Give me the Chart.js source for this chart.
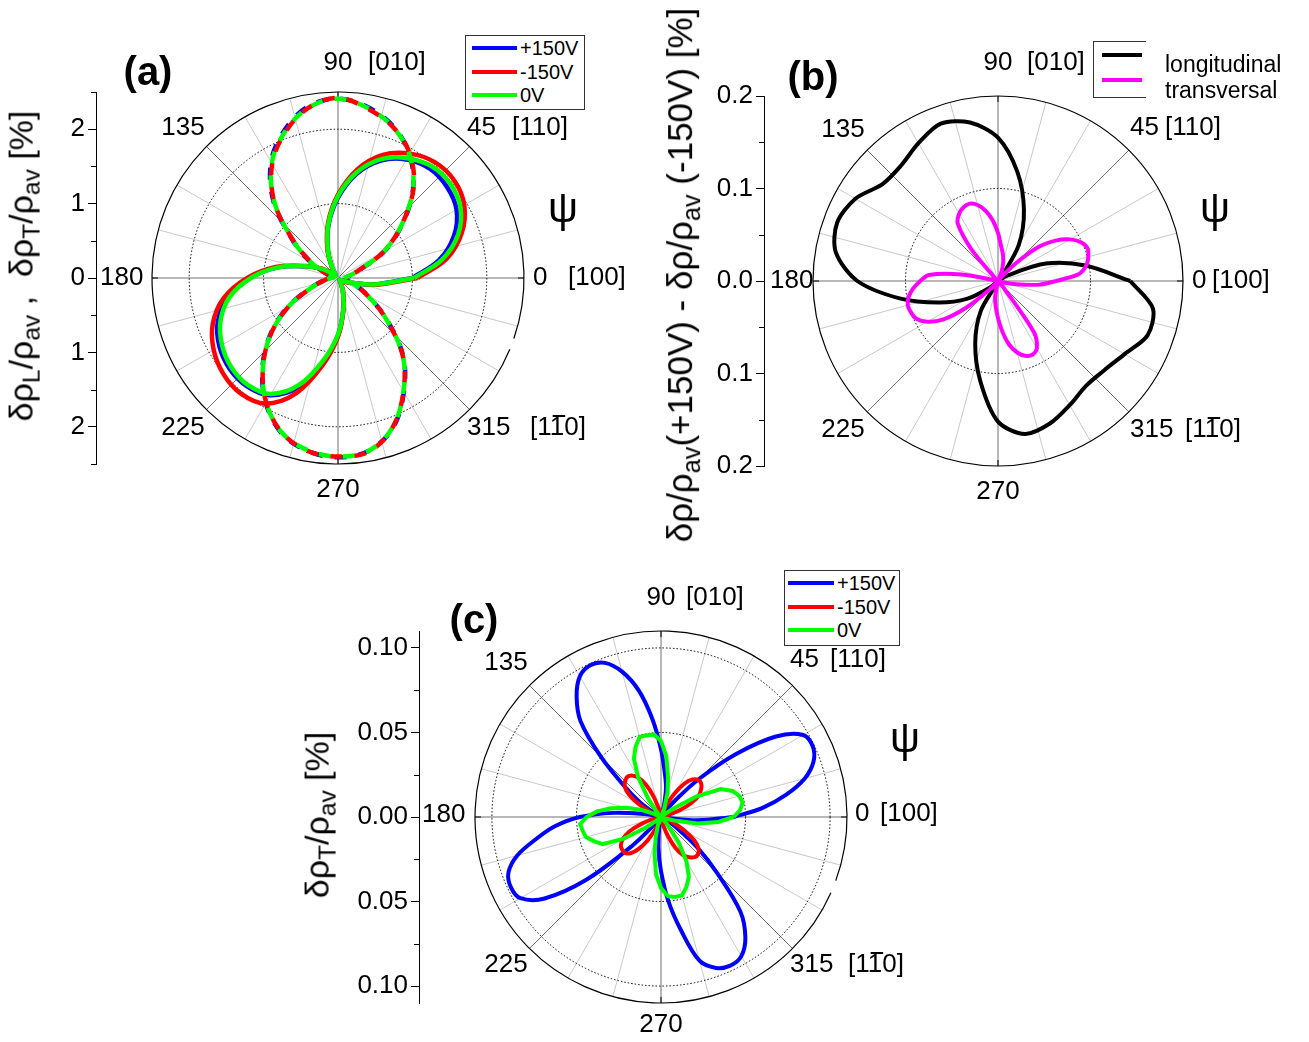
<!DOCTYPE html>
<html>
<head>
<meta charset="utf-8">
<script src="https://cdn.jsdelivr.net/npm/chart.js@4.4.1/dist/chart.umd.min.js"></script>
<style>
  body { margin: 0; background: #fff; }
  #page { position: relative; width: 1309px; height: 1042px; overflow: hidden;
          font-family: 'Liberation Sans', Arial, Helvetica, sans-serif; color: #000; }
  canvas { position: absolute; }
  .txt { position: absolute; white-space: nowrap; line-height: 1; transform: translateY(-50%); }
  .ctr { transform: translate(-50%, -50%); }
  .bold { font-weight: bold; }
  .ytitle { position: absolute; white-space: nowrap; line-height: 1;
            transform: translate(-50%, -50%) rotate(-90deg); }
  .ytitle sub { font-size: 0.72em; vertical-align: -0.3em; }
  .box { position: absolute; border: 1px solid #333; background: #fff; }
  .swatch { position: absolute; height: 4px; }
</style>
</head>
<body>
<div id="page">
  <canvas id="chartA" width="640" height="520" style="left:0;top:0"></canvas>
  <canvas id="chartB" width="669" height="560" style="left:640px;top:0"></canvas>
  <canvas id="chartC" width="680" height="482" style="left:280px;top:560px"></canvas>

  <div class="txt ctr bold" style="left:148px;top:71px;font-size:40px">(a)</div>
  <div class="txt ctr bold" style="left:813px;top:76px;font-size:40px">(b)</div>
  <div class="txt ctr bold" style="left:474px;top:619px;font-size:40px">(c)</div>

  <div class="txt ctr" style="left:563px;top:208px;font-size:42px">ψ</div>
  <div class="txt ctr" style="left:1215px;top:208px;font-size:42px">ψ</div>
  <div class="txt ctr" style="left:905px;top:738px;font-size:42px">ψ</div>

  <div class="ytitle" style="left:24px;top:266px;font-size:34px">δρ<sub>L</sub>/ρ<sub>av</sub> ,&nbsp; δρ<sub>T</sub>/ρ<sub>av</sub> [%]</div>
  <div class="ytitle" style="left:683px;top:275px;font-size:35px">δρ/ρ<sub>av</sub>(+150V) - δρ/ρ<sub>av</sub> (-150V) [%]</div>
  <div class="ytitle" style="left:320px;top:815px;font-size:34px">δρ<sub>T</sub>/ρ<sub>av</sub> [%]</div>
</div>

<script>
// angle grids (degrees)
const angles10 = [0, 10, 20, 30, 40, 50, 60, 70, 80, 90, 100, 110, 120, 130, 140, 150, 160, 170,
  180, 190, 200, 210, 220, 230, 240, 250, 260, 270, 280, 290, 300, 310, 320, 330, 340, 350];
const angles5 = [0, 5, 10, 15, 20, 25, 30, 35, 40, 45, 50, 55, 60, 65, 70, 75, 80, 85, 90, 95,
  100, 105, 110, 115, 120, 125, 130, 135, 140, 145, 150, 155, 160, 165, 170, 175, 180, 185, 190, 195,
  200, 205, 210, 215, 220, 225, 230, 235, 240, 245, 250, 255, 260, 265, 270, 275, 280, 285, 290, 295,
  300, 305, 310, 315, 320, 325, 330, 335, 340, 345, 350, 355];

// panel (a): longitudinal (dashed) and transverse (solid), in %
const aLongPlus  = [0.09, 0.15, 0.30, 0.72, 1.13, 1.57, 1.92, 2.17, 2.33, 2.41, 2.34, 2.11, 1.80, 1.35, 0.80, 0.43, 0.17, 0.07,
  0.10, 0.20, 0.39, 0.78, 1.19, 1.58, 1.94, 2.22, 2.36, 2.41, 2.36, 2.15, 1.77, 1.36, 0.84, 0.45, 0.22, 0.11];
const aLongMinus = [0.08, 0.14, 0.29, 0.71, 1.12, 1.58, 1.93, 2.16, 2.31, 2.42, 2.32, 2.08, 1.77, 1.33, 0.79, 0.41, 0.16, 0.06,
  0.10, 0.19, 0.38, 0.77, 1.18, 1.57, 1.93, 2.21, 2.36, 2.40, 2.37, 2.14, 1.76, 1.35, 0.83, 0.44, 0.21, 0.10];
const aLongZero  = [0.08, 0.14, 0.30, 0.71, 1.12, 1.57, 1.92, 2.16, 2.32, 2.41, 2.32, 2.09, 1.78, 1.33, 0.79, 0.42, 0.16, 0.06,
  0.09, 0.19, 0.38, 0.77, 1.18, 1.57, 1.93, 2.21, 2.35, 2.40, 2.36, 2.14, 1.76, 1.35, 0.83, 0.44, 0.21, 0.10];
const aTransPlus  = [1.00, 1.38, 1.66, 1.84, 1.91, 1.92, 1.84, 1.68, 1.42, 1.08, 0.73, 0.40, 0.15, 0.05, 0.09, 0.24, 0.46, 0.82,
  1.18, 1.50, 1.72, 1.84, 1.90, 1.90, 1.82, 1.56, 1.14, 0.77, 0.42, 0.19, 0.07, 0.03, 0.05, 0.09, 0.19, 0.50];
const aTransMinus = [1.07, 1.48, 1.77, 1.96, 2.04, 2.03, 1.93, 1.76, 1.48, 1.12, 0.76, 0.42, 0.16, 0.06, 0.10, 0.25, 0.47, 0.85,
  1.22, 1.56, 1.79, 1.93, 2.01, 2.03, 1.95, 1.65, 1.19, 0.79, 0.43, 0.20, 0.08, 0.04, 0.06, 0.10, 0.20, 0.52];
const aTransZero  = [1.02, 1.42, 1.72, 1.90, 1.97, 1.96, 1.86, 1.70, 1.44, 1.10, 0.74, 0.40, 0.15, 0.05, 0.09, 0.24, 0.46, 0.82,
  1.17, 1.48, 1.68, 1.80, 1.87, 1.88, 1.80, 1.53, 1.12, 0.76, 0.42, 0.19, 0.07, 0.03, 0.05, 0.09, 0.19, 0.50];

// panel (b): difference +150V minus -150V
const bLong = [0.143, 0.096, 0.055, 0.012, 0.000, 0.006, 0.045, 0.082, 0.120, 0.155, 0.174, 0.181, 0.172, 0.163, 0.163, 0.178, 0.185, 0.178,
  0.152, 0.108, 0.068, 0.038, 0.010, 0.000, 0.037, 0.072, 0.110, 0.152, 0.168, 0.164, 0.155, 0.148, 0.150, 0.158, 0.172, 0.170];
const bTrans = [0.063, 0.088, 0.097, 0.101, 0.103, 0.099, 0.090, 0.076, 0.057, 0.026,
  0.004, 0, 0, 0, 0.012, 0.022, 0.030, 0.038, 0.052, 0.066,
  0.077, 0.085, 0.089, 0.088, 0.084, 0.076, 0.045, 0.005, 0, 0,
  0, 0, 0, 0.002, 0.040, 0.075, 0.084, 0.092, 0.098, 0.101,
  0.100, 0.097, 0.088, 0.073, 0.045, 0.015, 0, 0, 0, 0,
  0, 0.002, 0.018, 0.028, 0.040, 0.055, 0.070, 0.080, 0.086, 0.088,
  0.084, 0.068, 0.010, 0, 0, 0, 0, 0, 0, 0.004,
  0.020, 0.045];

// panel (c): transverse
const cPlus = [0.043, 0.060, 0.075, 0.088, 0.096, 0.099, 0.097, 0.083, 0.058, 0.032,
  0.012, 0.002, 0, 0, 0, 0.006, 0.017, 0.026, 0.040, 0.058,
  0.076, 0.089, 0.097, 0.099, 0.096, 0.087, 0.074, 0.050, 0.028, 0.015,
  0.004, 0, 0, 0.002, 0.010, 0.028, 0.048, 0.063, 0.075, 0.088,
  0.096, 0.098, 0.096, 0.084, 0.058, 0.024, 0.004, 0, 0, 0,
  0, 0.002, 0.006, 0.018, 0.032, 0.050, 0.068, 0.088, 0.095, 0.097,
  0.095, 0.087, 0.073, 0.047, 0.028, 0.012, 0.003, 0, 0, 0,
  0.002, 0.022];
const cMinus = [0, 0, 0, 0.004, 0.012, 0.020, 0.026, 0.029, 0.031, 0.031,
  0.029, 0.024, 0.016, 0.008, 0.002, 0, 0, 0, 0, 0,
  0.001, 0.005, 0.013, 0.021, 0.027, 0.030, 0.031, 0.030, 0.028, 0.023,
  0.015, 0.007, 0.002, 0, 0, 0, 0, 0, 0.002, 0.006,
  0.013, 0.021, 0.026, 0.029, 0.030, 0.030, 0.028, 0.023, 0.016, 0.008,
  0.002, 0, 0, 0, 0, 0, 0.001, 0.005, 0.012, 0.020,
  0.026, 0.029, 0.031, 0.031, 0.029, 0.024, 0.016, 0.008, 0.002, 0,
  0, 0];
const cZero = [0.043, 0.047, 0.049, 0.048, 0.045, 0.039, 0.024, 0.008, 0.002, 0,
  0, 0, 0, 0.002, 0.006, 0.015, 0.024, 0.036, 0.045, 0.049,
  0.049, 0.049, 0.044, 0.038, 0.027, 0.013, 0.004, 0, 0, 0,
  0, 0.004, 0.012, 0.021, 0.030, 0.038, 0.044, 0.048, 0.047, 0.046,
  0.042, 0.038, 0.026, 0.011, 0.003, 0, 0, 0, 0, 0.001,
  0.005, 0.012, 0.022, 0.034, 0.042, 0.047, 0.048, 0.048, 0.044, 0.039,
  0.030, 0.018, 0.006, 0.001, 0, 0, 0, 0, 0.002, 0.008,
  0.022, 0.034];

// labels
const angleTicks = [0, 45, 90, 135, 180, 225, 270, 315];
const dirLabels = { 0: '[100]', 45: '[110]', 90: '[010]', 315: '[110]' };
const voltNames = ['+150V', '-150V', '0V'];
const voltColors = ['#0000ff', '#ff0000', '#00ff00'];
const diffNames = ['longitudinal', 'transversal'];
const diffColors = ['#000000', '#ff00ff'];

Chart.defaults.font.family = "'Liberation Sans', Arial, Helvetica, sans-serif";
Chart.defaults.color = '#000';

const LABEL_PX = 26;

// polar frame: spokes, rings, outer circle, angle labels, minor axis ticks
const polarFrame = {
  id: 'polarFrame',
  beforeDatasetsDraw(chart, args, o) {
    const { ctx, scales: { x, y } } = chart;
    const cx = x.getPixelForValue(0), cy = y.getPixelForValue(0);
    const rad = v => cy - y.getPixelForValue(v);
    const R = rad(o.rMax);
    ctx.save();
    ctx.lineWidth = 1;
    for (let d = 0; d < 360; d += 15) {
      const t = d * Math.PI / 180;
      ctx.strokeStyle = d % 45 === 0 ? '#707070' : '#c8c8c8';
      ctx.beginPath();
      ctx.moveTo(cx, cy);
      ctx.lineTo(cx + R * Math.cos(t), cy - R * Math.sin(t));
      ctx.stroke();
    }
    ctx.strokeStyle = '#000';
    ctx.setLineDash([1.5, 2]);
    o.rings.forEach(v => { ctx.beginPath(); ctx.arc(cx, cy, rad(v), 0, 2 * Math.PI); ctx.stroke(); });
    ctx.setLineDash([]);
    ctx.lineWidth = 1.2;
    ctx.beginPath();
    if (o.gap) {
      const g0 = o.gap[0] * Math.PI / 180, g1 = o.gap[1] * Math.PI / 180;
      ctx.arc(cx, cy, R, g1, g0 + 2 * Math.PI);
    } else {
      ctx.arc(cx, cy, R, 0, 2 * Math.PI);
    }
    ctx.stroke();
    ctx.lineWidth = 1;
    [0, 90, 180, 270].forEach(d => {
      const t = d * Math.PI / 180;
      ctx.beginPath();
      ctx.moveTo(cx + (R - 6) * Math.cos(t), cy - (R - 6) * Math.sin(t));
      ctx.lineTo(cx + R * Math.cos(t), cy - R * Math.sin(t));
      ctx.stroke();
    });
    ctx.restore();
  },
  afterDraw(chart, args, o) {
    const { ctx, scales: { x, y }, chartArea } = chart;
    const cx = x.getPixelForValue(0), cy = y.getPixelForValue(0);
    ctx.save();
    // minor ticks on the radial axis
    ctx.strokeStyle = '#000';
    ctx.lineWidth = 1;
    y.ticks.forEach(t => {
      if (o.isMajor(t.value)) return;
      const py = Math.round(y.getPixelForValue(t.value)) + 0.5;
      ctx.beginPath();
      ctx.moveTo(chartArea.left - 5, py);
      ctx.lineTo(chartArea.left, py);
      ctx.stroke();
    });
    // angle labels
    ctx.font = LABEL_PX + 'px "Liberation Sans", Arial, sans-serif';
    ctx.fillStyle = '#000';
    ctx.textBaseline = 'middle';
    angleTicks.forEach(a => {
      const p = o.pos[a];
      ctx.textAlign = p[3] === 'c' ? 'center' : 'left';
      ctx.fillText(String(a), cx + p[0], cy + p[1]);
      if (dirLabels[a] && p[2] != null) {
        const s = dirLabels[a];
        const lx = cx + p[2], ly = cy + p[1];
        ctx.textAlign = 'left';
        ctx.fillText(s, lx, ly);
        if (a === 315) {
          const w0 = ctx.measureText('[1').width, w1 = ctx.measureText('1').width;
          ctx.fillRect(lx + w0 + 1, ly - LABEL_PX * 0.5, w1 - 2, 2);
        }
      }
    });
    ctx.restore();
  }
};

function toXY(angles, radii) {
  const pts = angles.map((a, i) => ({
    x: radii[i] * Math.cos(a * Math.PI / 180),
    y: radii[i] * Math.sin(a * Math.PI / 180)
  }));
  pts.push(pts[0]);
  return pts;
}

function line(angles, radii, color, extra) {
  return Object.assign({
    data: toXY(angles, radii), showLine: true, borderColor: color, backgroundColor: color,
    borderWidth: 4, pointRadius: 0, tension: 0.35, fill: false, borderCapStyle: 'butt'
  }, extra || {});
}

function makePanel(id, g, datasets) {
  const ppu = g.rPx / g.rMax;
  const isMajor = v => Math.abs(v / g.major - Math.round(v / g.major)) < 1e-6;
  return new Chart(document.getElementById(id), {
    type: 'scatter',
    data: { datasets },
    plugins: [polarFrame],
    options: {
      responsive: false,
      animation: false,
      devicePixelRatio: 1,
      layout: { padding: {
        left: g.axisX - g.axisW, right: g.w - g.cx - g.rPx,
        top: g.cy - g.rPx, bottom: g.h - g.cy - g.rPx } },
      plugins: {
        legend: { display: false },
        tooltip: { enabled: false },
        polarFrame: { rMax: g.rMax, rings: g.rings, gap: g.gap, pos: g.pos, isMajor }
      },
      scales: {
        x: { type: 'linear', display: false, min: -(g.cx - g.axisX) / ppu, max: g.rMax },
        y: {
          type: 'linear', position: 'left', min: -g.rMax, max: g.rMax,
          afterFit: s => { s.width = g.axisW; },
          border: { display: true, color: '#000', width: 1 },
          grid: { drawOnChartArea: false, drawTicks: true, tickLength: 8, tickWidth: 1,
                  tickColor: c => (c.tick && isMajor(c.tick.value)) ? '#000' : 'rgba(0,0,0,0)' },
          ticks: {
            stepSize: g.minor, autoSkip: false, includeBounds: false, padding: 3,
            font: { size: LABEL_PX },
            callback: v => isMajor(v) ? Math.abs(v).toFixed(g.digits) : ''
          }
        }
      }
    }
  });
}

// (a)
makePanel('chartA', {
  w: 640, h: 520, axisX: 96, axisW: 60, cx: 338, cy: 278, rPx: 186, rMax: 2.5,
  rings: [1, 2], gap: [19, 22.5], minor: 0.5, major: 1, digits: 0,
  pos: { 0: [195, 0, 230], 45: [129, -150, 174], 90: [0, -215, 30, 'c'], 135: [-155, -150, null, 'c'],
         180: [-238, 0], 225: [-155, 150, null, 'c'], 270: [0, 212, null, 'c'], 315: [129, 150, 192] }
}, [
  line(angles10, aTransZero, voltColors[2], { borderWidth: 4.5 }),
  line(angles10, aLongZero, voltColors[2], { borderWidth: 4.5, borderDash: [12, 12], borderDashOffset: 0 }),
  line(angles10, aLongMinus, voltColors[1], { borderWidth: 4.5, borderDash: [12, 12], borderDashOffset: 12 }),
  line(angles10, aTransMinus, voltColors[1], { borderWidth: 4.5 }),
  line(angles10, aLongPlus, voltColors[0], { borderWidth: 4.5, borderDash: [12, 12], borderDashOffset: 6 }),
  line(angles10, aTransPlus, voltColors[0], { borderWidth: 4.5 })
]);

// (b)
makePanel('chartB', {
  w: 669, h: 560, axisX: 124, axisW: 80, cx: 358, cy: 281, rPx: 185, rMax: 0.2,
  rings: [0.1], gap: null, minor: 0.05, major: 0.1, digits: 1,
  pos: { 0: [194, 0, 214], 45: [132, -153, 167], 90: [0, -218, 29, 'c'], 135: [-155, -151, null, 'c'],
         180: [-228, 0], 225: [-155, 149, null, 'c'], 270: [0, 211, null, 'c'], 315: [132, 149, 187] }
}, [
  line(angles5, bTrans, diffColors[1], { tension: 0.3 }),
  line(angles10, bLong, diffColors[0], { tension: 0.3 })
]);

// (c)
makePanel('chartC', {
  w: 680, h: 482, axisX: 139, axisW: 90, cx: 381, cy: 257, rPx: 186, rMax: 0.11,
  rings: [0.05, 0.1], gap: [20, 24], minor: 0.025, major: 0.05, digits: 2,
  pos: { 0: [194, -3, 219], 45: [129, -157, 169], 90: [0, -219, 25, 'c'], 135: [-155, -154, null, 'c'],
         180: [-239, -2], 225: [-155, 148, null, 'c'], 270: [0, 208, null, 'c'], 315: [129, 148, 187] }
}, [
  line(angles5, cZero, voltColors[2], { tension: 0 }),
  line(angles5, cMinus, voltColors[1]),
  line(angles5, cPlus, voltColors[0])
]);

// legends
const page = document.getElementById('page');
function addEl(cls, style, text) {
  const el = document.createElement('div');
  el.className = cls;
  el.setAttribute('style', style);
  if (text) el.textContent = text;
  page.appendChild(el);
  return el;
}
function voltLegend(left, top, width, height, rows, lineX, lineW, textX, size) {
  addEl('box', `left:${left}px;top:${top}px;width:${width}px;height:${height}px`);
  voltNames.forEach((n, i) => {
    addEl('swatch', `left:${lineX}px;top:${rows[i] - 2}px;width:${lineW}px;background:${voltColors[i]}`);
    addEl('txt', `left:${textX}px;top:${rows[i]}px;font-size:${size}px`, n);
  });
}
voltLegend(465, 35, 118, 73, [48, 72, 95], 472, 45, 520, 20);
voltLegend(784, 570, 114, 74, [583, 607, 630], 788, 46, 837, 20);

addEl('box', 'left:1093px;top:41px;width:52px;height:55px;border-right:none');
diffNames.forEach((n, i) => {
  const yy = [55, 80][i];
  addEl('swatch', `left:1102px;top:${yy - 2}px;width:40px;background:${diffColors[i]}`);
  addEl('txt', `left:1165px;top:${[64, 90][i]}px;font-size:23px`, n);
});
</script>
</body>
</html>
